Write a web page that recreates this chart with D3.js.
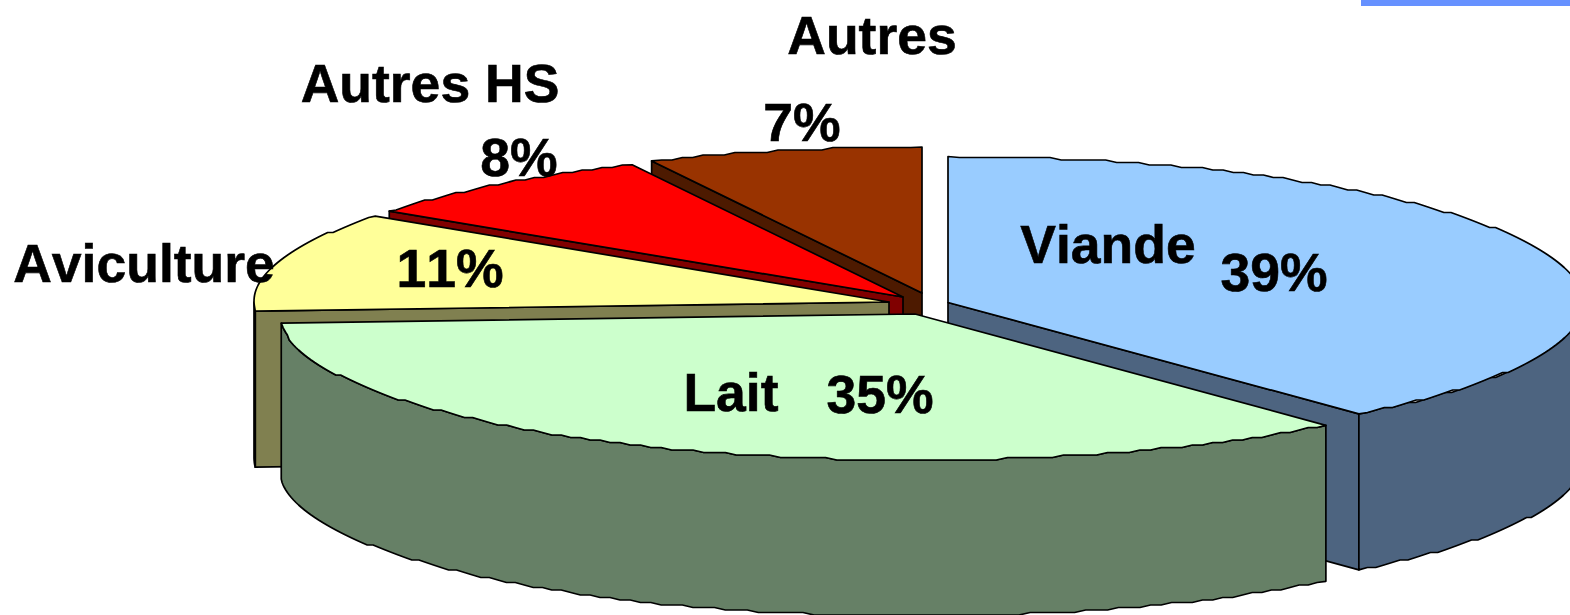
<!DOCTYPE html>
<html><head><meta charset="utf-8">
<script src="https://cdn.jsdelivr.net/npm/d3@7/dist/d3.min.js"></script>
<style>html,body{margin:0;padding:0;background:#fff;overflow:hidden}svg{display:block}
text{font-family:"Liberation Sans",Arial,sans-serif;font-weight:700;fill:#000;stroke:#000;stroke-width:.6px;font-size:53.5px;font-kerning:none}</style>
</head><body>
<script>
const categories = ["Viande","Lait","Aviculture","Autres HS","Autres"];
const values = [38.8,35.2,11,8,7];
const percentLabels = ["39%","35%","11%","8%","7%"];
const topColors = ["#99ccff","#ccffcc","#ffff99","#ff0000","#993300"];
const sideColors = ["#4d6480","#668066","#808050","#800000","#4d1a00"];
const apexX = [948,915,889,903,922];
const apexY = [302.5,314,302,297,293];
const nameX = [1108,731,144,430,872];
const nameY = [263,411,282,102,54];
const pctX = [1274,880,450,519,802];
const pctY = [291,413,287,176,141];
const rx = 635, ry = 146, depth = 156;

const W = 1570, H = 615;
const svg = d3.select("body").append("svg").attr("width",W).attr("height",H);
svg.append("rect").attr("x",1361).attr("y",0).attr("width",209).attr("height",6).attr("fill","#6691ff");

const arcs = d3.pie().sort(null).value(d=>d)(values);
const line = d3.line();
const pt = (i,a,dz=0)=>[apexX[i]+rx*Math.sin(a), apexY[i]-ry*Math.cos(a)+dz];
const sample = (a0,a1)=>{const n=Math.max(2,Math.ceil((a1-a0)/0.018));return d3.range(n+1).map(k=>a0+(a1-a0)*k/n);};
// the reference outline is slightly stepped: interior rim points snap to a coarse pixel row
const rim = (i,s,dz=0)=>s.map((a,k)=>{const p=pt(i,a,dz);
  return (k===0||k===s.length-1)?p:[p[0],Math.round(p[1]/2.5)*2.5];});
const drawOrder = [4,3,2,0,1];
const g = svg.append("g").attr("stroke","#000").attr("stroke-width",1.7).attr("stroke-linejoin","round");

drawOrder.forEach(i=>{
  const {startAngle:a0,endAngle:a1} = arcs[i];
  const c=[apexX[i],apexY[i]];
  const radial=a=>[c,pt(i,a),pt(i,a,depth),[c[0],c[1]+depth]];
  if(Math.sin(a0)<-1e-6) g.append("path").attr("d",line(radial(a0))+"Z").attr("fill",sideColors[i]);
  if(Math.sin(a1)>1e-6) g.append("path").attr("d",line(radial(a1))+"Z").attr("fill",sideColors[i]);
  const lo=Math.max(a0,Math.PI/2), hi=Math.min(a1,3*Math.PI/2);
  if(hi>lo){
    const s=sample(lo,hi);
    const wall=rim(i,s).concat(rim(i,s,depth).reverse());
    g.append("path").attr("d",line(wall)+"Z").attr("fill",sideColors[i]);
  }
  const top=[c].concat(rim(i,sample(a0,a1)));
  g.append("path").attr("d",line(top)+"Z").attr("fill",topColors[i]);
});

svg.selectAll("text.name").data(categories).join("text").attr("class","name")
  .attr("x",(d,i)=>nameX[i]).attr("y",(d,i)=>nameY[i]).attr("text-anchor","middle").text(d=>d);
svg.selectAll("text.pct").data(percentLabels).join("text").attr("class","pct")
  .attr("x",(d,i)=>pctX[i]).attr("y",(d,i)=>pctY[i]).attr("text-anchor","middle").text(d=>d);
</script>
</body></html>
